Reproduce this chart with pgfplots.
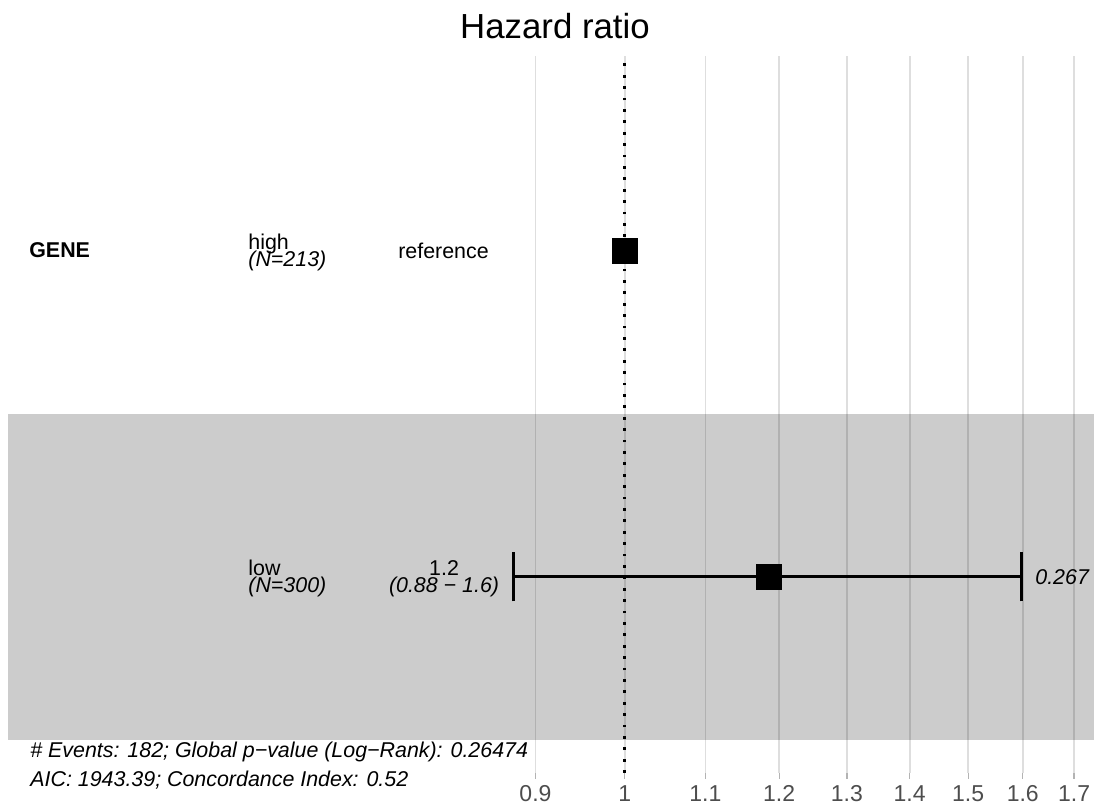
\documentclass[border=0pt]{standalone}
\usepackage{fontspec}
\setmainfont{Liberation Sans}
\usepackage{pgfplots}
\pgfplotsset{compat=1.18}
\definecolor{gridc}{HTML}{DEDEDE}
\definecolor{tickc}{HTML}{B3B3B3}
\definecolor{labc}{HTML}{4D4D4D}
\newcommand\fs{\fontsize{10.7}{12.8}\selectfont}

\begin{document}
\begin{tikzpicture}
\path[use as bounding box] (-4pt,-17pt) rectangle (543pt,386.5pt);
\begin{axis}[
  at={(0,0)}, anchor=south west,
  scale only axis, width=543pt, height=358.5pt,
  xmode=log, xmin=0.4828, xmax=1.7405, ymin=0, ymax=717,
  axis line style={draw=none},
  xtick={0.9,1,1.1,1.2,1.3,1.4,1.5,1.6,1.7},
  xticklabels={0.9,1,1.1,1.2,1.3,1.4,1.5,1.6,1.7},
  minor xtick={},
  ytick=\empty, xtick pos=bottom, tick align=outside,
  major tick length=3pt,
  x tick style={tickc, line width=0.6pt},
  xmajorgrids, grid style={gridc, line width=0.85pt},
  xticklabel style={anchor=base, yshift=-11.2pt, inner sep=0pt, text=labc,
    font=\fontsize{11.5}{13}\selectfont},
  clip=false,
]
% shaded band for the second row
\addplot[draw=none, fill=black, fill opacity=0.2]
  coordinates {(0.4828,33) (1.7405,33) (1.7405,359) (0.4828,359)} -- cycle;

% reference line at HR = 1
\addplot[black, line width=1.35pt, dash pattern=on 1.35pt off 4.35pt]
  coordinates {(1,0) (1,717)};

% confidence interval, low vs high
\addplot[black, line width=1.5pt] coordinates {(0.877,196) (1.598,196)};
\addplot[black, line width=1.5pt] coordinates {(0.877,171.5) (0.877,220.5)};
\addplot[black, line width=1.5pt] coordinates {(1.598,171.5) (1.598,220.5)};

% point estimates
\addplot[only marks, mark=square*, mark size=6.25pt,
  mark options={draw=none, fill=black}]
  coordinates {(1,522.5) (1.185,196)};

% table columns
\node[anchor=west, inner sep=0pt, font=\fs\bfseries] at (axis cs:0.4949,522.5) {GENE};
\node[anchor=base west, inner sep=0pt, font=\fs] at (axis cs:0.641,523.5) {high};
\node[anchor=base west, inner sep=0pt, font=\fs\itshape] at (axis cs:0.641,506.5) {(N=213)};
\node[anchor=west, inner sep=0pt, font=\fs] at (axis cs:0.7651,522.5) {reference};

\node[anchor=base west, inner sep=0pt, font=\fs] at (axis cs:0.641,197) {low};
\node[anchor=base west, inner sep=0pt, font=\fs\itshape] at (axis cs:0.641,180) {(N=300)};
\node[anchor=base, inner sep=0pt, font=\fs] at (axis cs:0.8079,197) {1.2};
\node[anchor=base, inner sep=0pt, font=\fs\itshape] at (axis cs:0.8079,180) {(0.88 − 1.6)};
\node[anchor=west, inner sep=0pt, font=\fs\itshape] at (axis cs:1.6232,196) {0.267};

% model summary
\node[anchor=base west, inner sep=0pt, font=\fs\itshape] at (axis cs:0.4955,15)
  {\# Events: 182; Global p−value (Log−Rank): 0.26474};
\node[anchor=base west, inner sep=0pt, font=\fs\itshape] at (axis cs:0.4955,-14)
  {AIC: 1943.39; Concordance Index: 0.52};

\node[anchor=base, inner sep=0pt, yshift=8.5pt, font=\fontsize{17.4}{20}\selectfont]
  at (rel axis cs:0.5037,1) {Hazard ratio};
\end{axis}
\end{tikzpicture}
\end{document}
